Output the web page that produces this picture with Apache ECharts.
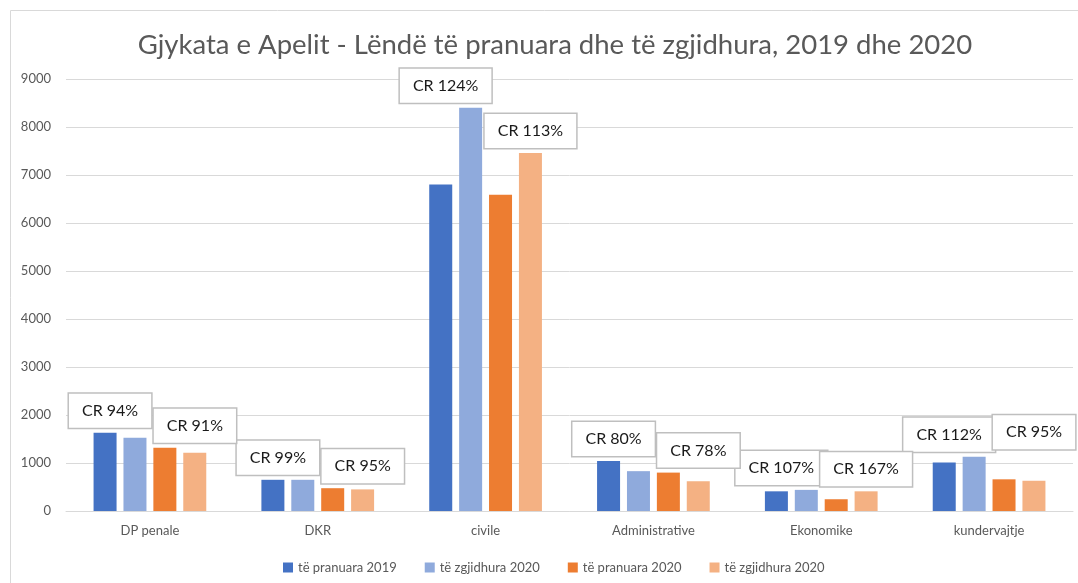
<!DOCTYPE html>
<html>

<head>
    <meta charset="utf-8" />
    <title>Gjykata e Apelit</title>
    <script src="https://cdn.jsdelivr.net/npm/echarts@6/dist/echarts.min.js"></script>
    <style>
        html, body { margin: 0; padding: 0; background: #fff; }
        #main { width: 1078px; height: 583px; }
    </style>
</head>

<body>
    <div id="main"></div>
    <script type="text/javascript">
        // categories and series values
        var categories = ['DP penale', 'DKR', 'civile', 'Administrative', 'Ekonomike', 'kundervajtje'];
        var seriesNames = ['të pranuara 2019', 'të zgjidhura 2020', 'të pranuara 2020', 'të zgjidhura 2020 '];
        var pranuara2019 = [1630, 650, 6800, 1040, 410, 1010];
        var zgjidhura2019 = [1525, 650, 8400, 830, 440, 1130];
        var pranuara2020 = [1317, 475, 6590, 800, 245, 660];
        var zgjidhura2020 = [1212, 450, 7460, 620, 410, 630];
        var crLabels2019 = ['CR 94%', 'CR 99%', 'CR 124%', 'CR 80%', 'CR 107%', 'CR 112%'];
        var crLabels2020 = ['CR 91%', 'CR 95%', 'CR 113%', 'CR 78%', 'CR 167%', 'CR 95%'];
        var yTicks = { min: 0, max: 9000, interval: 1000 };

        var myChart = echarts.init(document.getElementById('main'));

        var boxStyle = {
            position: 'top',
            distance: 5,
            color: '#1a1a1a',
            fontFamily: 'Lato',
            fontSize: 16,
            lineHeight: 18,
            backgroundColor: '#fff',
            borderColor: '#bfbfbf',
            borderWidth: 1.5,
            padding: [8, 13]
        };

        // the CR box sits on the taller bar of each pair
        function withLabels(values, other, labels, isFirst, dx, liftLast) {
            return values.map(function (v, i) {
                var show = isFirst ? v >= other[i] : v > other[i];
                var lift = (liftLast && i === 5) ? -25 : 0;
                return {
                    value: v,
                    label: Object.assign({}, boxStyle, {
                        show: show,
                        offset: [dx, lift],
                        formatter: labels[i]
                    })
                };
            });
        }

        var option = {
            animation: false,
            title: {
                text: 'Gjykata e Apelit - Lëndë të pranuara dhe të zgjidhura, 2019 dhe 2020',
                left: 550,
                textAlign: 'center',
                top: 26,
                textStyle: {
                    fontFamily: 'Lato',
                    fontWeight: 'normal',
                    fontSize: 27.5,
                    color: '#595959'
                }
            },
            graphic: [{
                type: 'rect',
                shape: { x: 10.5, y: 10.5, width: 1100, height: 600 },
                style: { fill: 'none', stroke: '#d9d9d9', lineWidth: 1 },
                silent: true
            }],
            legend: {
                left: 278,
                top: 556,
                itemWidth: 10,
                itemHeight: 10,
                itemGap: 28,
                icon: 'rect',
                textStyle: { fontFamily: 'Lato', fontSize: 13, color: '#595959' }
            },
            grid: { left: 66, right: 5, top: 79, bottom: 72 },
            xAxis: {
                type: 'category',
                data: categories,
                axisLine: { lineStyle: { color: '#d9d9d9' } },
                axisTick: { show: false },
                axisLabel: { fontFamily: 'Lato', fontSize: 13, color: '#595959', margin: 13 }
            },
            yAxis: {
                type: 'value',
                min: yTicks.min,
                max: yTicks.max,
                interval: yTicks.interval,
                axisLine: { show: false },
                axisTick: { show: false },
                splitLine: { lineStyle: { color: '#d9d9d9' } },
                axisLabel: {
                    fontFamily: 'Lato', fontSize: 13, color: '#595959', margin: 15,
                    formatter: function (v) { return String(v); }
                }
            },
            series: [
                {
                    name: seriesNames[0], type: 'bar', barWidth: 23, barGap: '30%',
                    itemStyle: { color: '#4472C4' },
                    data: withLabels(pranuara2019, zgjidhura2019, crLabels2019, true, 5, false)
                },
                {
                    name: seriesNames[1], type: 'bar', barWidth: 23, barGap: '30%',
                    itemStyle: { color: '#8FAADC' },
                    data: withLabels(zgjidhura2019, pranuara2019, crLabels2019, false, -25, false)
                },
                {
                    name: seriesNames[2], type: 'bar', barWidth: 23, barGap: '30%',
                    itemStyle: { color: '#ED7D31' },
                    data: withLabels(pranuara2020, zgjidhura2020, crLabels2020, true, 30, true)
                },
                {
                    name: seriesNames[3], type: 'bar', barWidth: 23, barGap: '30%',
                    itemStyle: { color: '#F4B183' },
                    data: withLabels(zgjidhura2020, pranuara2020, crLabels2020, false, 0, true)
                }
            ]
        };

        myChart.setOption(option);
    </script>
</body>

</html>
